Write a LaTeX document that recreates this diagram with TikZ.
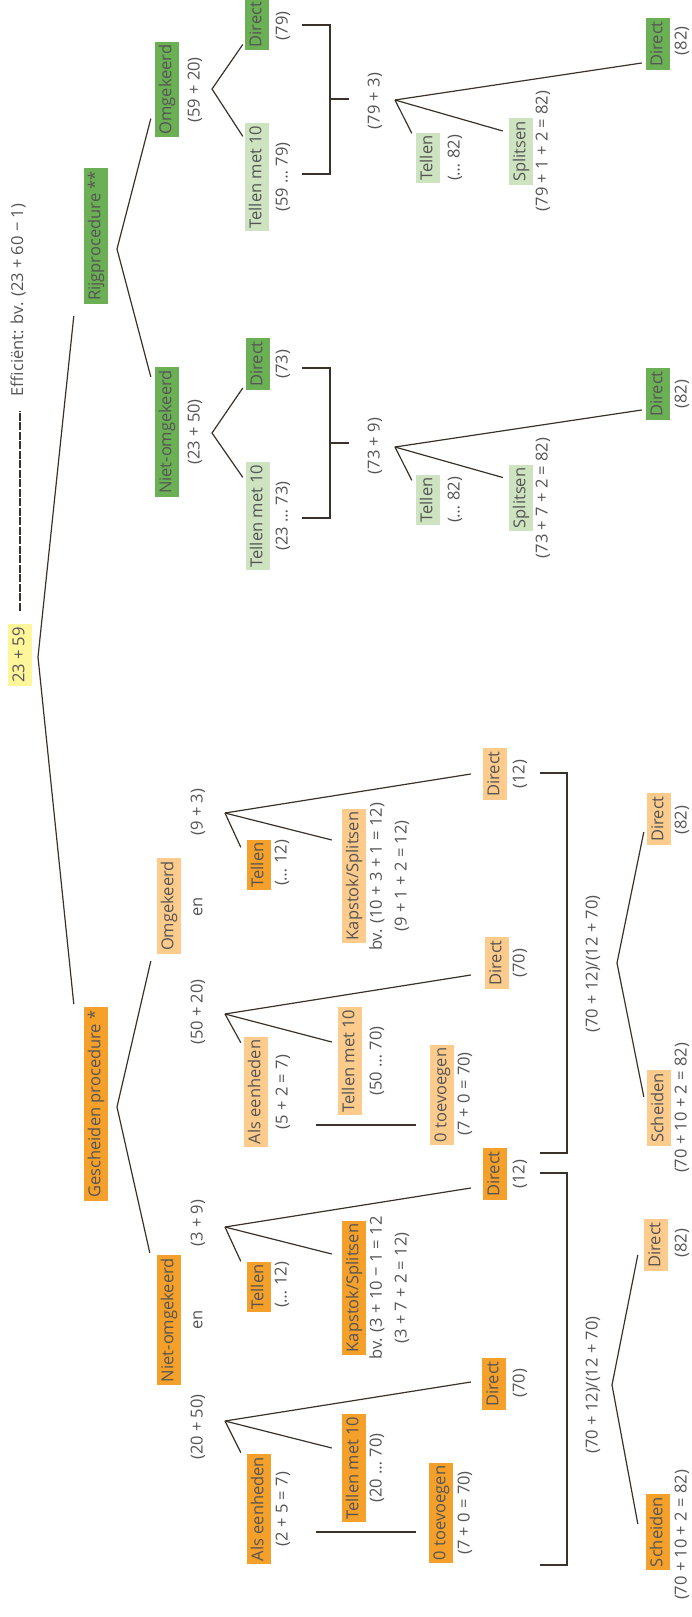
\documentclass[tikz,border=0pt]{standalone}
\usepackage{fontspec}
\setmainfont{Open Sans}
\usetikzlibrary{calc}
\definecolor{orDark}{RGB}{244,160,42}
\definecolor{orLight}{RGB}{253,203,139}
\definecolor{grDark}{RGB}{108,176,86}
\definecolor{grLight}{RGB}{206,228,193}
\definecolor{rootYel}{RGB}{255,245,155}
\definecolor{txtGray}{RGB}{85,85,85}
\definecolor{lineBrown}{RGB}{58,50,40}
\tikzstyle{every node}=[font=\fontsize{16.5}{19}\selectfont, text=txtGray, rotate=90]
\tikzstyle{conn}=[line width=1.2pt, draw=lineBrown]
\tikzstyle{box}=[inner xsep=3pt, inner ysep=0pt, minimum height=24pt, text height=12.5pt, text depth=3.8pt]
\tikzstyle{ordark}=[box, fill=orDark]
\tikzstyle{orlight}=[box, fill=orLight]
\tikzstyle{grdark}=[box, fill=grDark]
\tikzstyle{grlight}=[box, fill=grLight]
\tikzstyle{rootbox}=[box, fill=rootYel]
\tikzstyle{note}=[inner sep=0pt]

\begin{document}
\begin{tikzpicture}[x=1pt,y=-1pt]
  \useasboundingbox (0,0) rectangle (691,1617);
  % root
  \node[rootbox] (root) at (20,655) {23 + 59};
  \node[note] (eff) at (18,300) {Efficiënt: bv. (23 + 60 − 1)};
  \draw[conn, line width=1.1pt, dash pattern=on 8pt off 1.5pt,
        shorten <=13pt, shorten >=15pt] (root.east) -- (root.east |- eff.west);
  \node[grdark] (rijg) at (96,236) {Rijgprocedure **};
  \node[ordark] (gesch) at (96,1104) {Gescheiden procedure *};
  \coordinate (v0) at (38,657);
  \draw[conn] ($(rijg.north west)+(-10,12)$) -- (v0) -- ($(gesch.north east)+(-10,-3)$);

  % Rijgprocedure
  \node[grdark] (romg) at (167,89.5) {Omgekeerd};
  \node[note] (romgn) at (195,90) {(59 + 20)};
  \node[grdark] (rniet) at (167,432) {Niet-omgekeerd};
  \node[note] (rnietn) at (195,432) {(23 + 50)};
  \coordinate (v1) at (117,249);
  \draw[conn] ($(romg.north west)+(-4,-19)$) -- (v1) -- ($(rniet.north east)+(-4,10)$);

  % (59 + 20)
  \node[grdark] (rdirA) at (257,24.5) {Direct};
  \node[note] (rdirAn) at (283,26) {(79)};
  \node[grlight] (rtelA) at (257,177) {Tellen met 10};
  \node[note] (rtelAn) at (283,177) {(59 … 79)};
  \coordinate (v2) at (212,89);
  \draw[conn] ($(rdirA.north west)+(-2,-6)$) -- (v2) -- ($(rtelA.north east)+(-2,14)$);
  \coordinate (bA1) at (302,25);
  \coordinate (bA2) at (302,174);
  \coordinate (bA3) at (349,99);
  \draw[conn] (bA1) -- ++(28,0) |- (bA2);
  \draw[conn] (bA3) -- ++(-19,0);
  \node[note] (rsomA) at (375,101) {(79 + 3)};
  \coordinate (v3) at (395,100);
  \node[grlight] (rtelB) at (428,158) {Tellen};
  \node[note] (rtelBn) at (455,158) {(… 82)};
  \node[grlight] (rsplA) at (521,151.5) {Splitsen};
  \node[note] (rsplAn) at (543,151) {(79 + 1 + 2 = 82)};
  \node[grdark] (rdirB) at (658,44) {Direct};
  \node[note] (rdirBn) at (682,41) {(82)};
  \draw[conn] (v3) -- ($(rtelB.north east)+(-4,1)$);
  \draw[conn] (v3) -- ($(rsplA.north east)+(-6,13)$);
  \draw[conn] (v3) -- ($(rdirB.north west)+(-4,-7)$);

  % (23 + 50)
  \node[grdark] (rdirC) at (258,364) {Direct};
  \node[note] (rdirCn) at (283,364) {(73)};
  \node[grlight] (rtelC) at (258,516) {Tellen met 10};
  \node[note] (rtelCn) at (283,516) {(23 … 73)};
  \coordinate (v4) at (212,433);
  \draw[conn] ($(rdirC.north west)+(-3,-2)$) -- (v4) -- ($(rtelC.north east)+(-3,16)$);
  \coordinate (bB1) at (302,368);
  \coordinate (bB2) at (302,518);
  \coordinate (bB3) at (349,443);
  \draw[conn] (bB1) -- ++(28,0) |- (bB2);
  \draw[conn] (bB3) -- ++(-19,0);
  \node[note] (rsomB) at (375,446) {(73 + 9)};
  \coordinate (v5) at (395,447);
  \node[grlight] (rtelD) at (428,500) {Tellen};
  \node[note] (rtelDn) at (455,500) {(… 82)};
  \node[grlight] (rsplB) at (521,498) {Splitsen};
  \node[note] (rsplBn) at (543,498) {(73 + 7 + 2 = 82)};
  \node[grdark] (rdirD) at (658,394) {Direct};
  \node[note] (rdirDn) at (682,394) {(82)};
  \draw[conn] (v5) -- ($(rtelD.north east)+(-4,6)$);
  \draw[conn] (v5) -- ($(rsplB.north east)+(-6,13)$);
  \draw[conn] (v5) -- ($(rdirD.north west)+(-4,-10)$);

  % Gescheiden procedure
  \node[orlight] (gomg) at (169,906) {Omgekeerd};
  \node[note] (gomgL) at (198,1012) {(50 + 20)};
  \node[note] (gomgM) at (198,907) {en};
  \node[note] (gomgR) at (198,812) {(9 + 3)};
  \node[ordark] (gniet) at (169,1320) {Niet-omgekeerd};
  \node[note] (gnietL) at (198,1427) {(20 + 50)};
  \node[note] (gnietM) at (198,1320) {en};
  \node[note] (gnietR) at (198,1223) {(3 + 9)};
  \coordinate (v6) at (117,1107);
  \draw[conn] ($(gomg.north west)+(-6,7)$) -- (v6) -- ($(gniet.north east)+(-7,-2)$);

  % (9 + 3)
  \node[ordark] (gtelA) at (259,865) {Tellen};
  \node[note] (gtelAn) at (282,863) {(… 12)};
  \node[orlight] (gkapA) at (354,876) {Kapstok/Splitsen};
  \node[note] (gkapAn) at (377,877) {bv. (10 + 3 + 1 = 12)};
  \node[note] (gkapAm) at (402,876) {(9 + 1 + 2 = 12)};
  \node[orlight] (gdirA) at (495,774) {Direct};
  \node[note] (gdirAn) at (520,774) {(12)};
  \coordinate (v7) at (225,813);
  \draw[conn] (v7) -- ($(gtelA.north east)+(-6,8)$);
  \draw[conn] (v7) -- ($(gkapA.north)+(-10,-36)$);
  \draw[conn] (v7) -- ($(gdirA.north)+(-12,0)$);

  % (50 + 20)
  \node[orlight] (galsA) at (256,1092) {Als eenheden};
  \node[note] (galsAn) at (283,1092) {(5 + 2 = 7)};
  \node[orlight] (gtmA) at (350,1061) {Tellen met 10};
  \node[note] (gtmAn) at (377,1061) {(50 … 70)};
  \node[orlight] (gdirB) at (497,963) {Direct};
  \node[note] (gdirBn) at (520,963) {(70)};
  \node[orlight] (gnulA) at (442,1095) {0 toevoegen};
  \node[note] (gnulAn) at (465,1094) {(7 + 0 = 70)};
  \coordinate (v8) at (225,1014);
  \draw[conn] (v8) -- ($(galsA.north east)+(-3,6)$);
  \draw[conn] (v8) -- ($(gtmA.north)+(-6,-19)$);
  \draw[conn] (v8) -- ($(gdirB.north)+(-14,12)$);
  \draw[conn] ($(galsA.south)+(48,33)$) -- ($(gnulA.north)+(-14,30)$);

  % (70 + 12)/(12 + 70)
  \coordinate (bC1) at (540,773);
  \coordinate (bC2) at (540,1153);
  \draw[conn] (bC1) -- ++(27,0) |- (bC2);
  \node[note] (gsomA) at (593,964) {(70 + 12)/(12 + 70)};
  \coordinate (v9) at (617,963);
  \node[orlight] (gdirC) at (659,819) {Direct};
  \node[note] (gdirCn) at (682,820) {(82)};
  \node[orlight] (gschA) at (659,1108) {Scheiden};
  \node[note] (gschAn) at (682,1108) {(70 + 10 + 2 = 82)};
  \draw[conn] ($(gdirC.north west)+(-3,-13)$) -- (v9) -- ($(gschA.north east)+(-3,27)$);

  % (3 + 9)
  \node[ordark] (gtelB) at (259,1287) {Tellen};
  \node[note] (gtelBn) at (282,1285) {(… 12)};
  \node[ordark] (gkapB) at (354,1288) {Kapstok/Splitsen};
  \node[note] (gkapBn) at (377,1288) {bv. (3 + 10 − 1 = 12};
  \node[note] (gkapBm) at (402,1288) {(3 + 7 + 2 = 12)};
  \node[ordark] (gdirD) at (495,1174) {Direct};
  \node[note] (gdirDn) at (520,1174) {(12)};
  \coordinate (v10) at (225,1227);
  \draw[conn] (v10) -- ($(gtelB.north east)+(-6,0)$);
  \draw[conn] (v10) -- ($(gkapB.north)+(-10,-34)$);
  \draw[conn] (v10) -- ($(gdirD.north)+(-12,14)$);

  % (20 + 50)
  \node[ordark] (galsB) at (259,1509) {Als eenheden};
  \node[note] (galsBn) at (283,1509) {(2 + 5 = 7)};
  \node[ordark] (gtmB) at (354,1468) {Tellen met 10};
  \node[note] (gtmBn) at (377,1468) {(20 … 70)};
  \node[ordark] (gdirE) at (494,1384) {Direct};
  \node[note] (gdirEn) at (520,1383) {(70)};
  \node[ordark] (gnulB) at (441,1513) {0 toevoegen};
  \node[note] (gnulBn) at (465,1513) {(7 + 0 = 70)};
  \coordinate (v11) at (225,1421);
  \draw[conn] (v11) -- ($(galsB.north east)+(-6,-1)$);
  \draw[conn] (v11) -- ($(gtmB.north)+(-10,-20)$);
  \draw[conn] (v11) -- ($(gdirE.north)+(-11,-2)$);
  \draw[conn] ($(galsB.south)+(45,23)$) -- ($(gnulB.north)+(-13,19)$);

  % (70 + 12)/(12 + 70)
  \coordinate (bD1) at (540,1173);
  \coordinate (bD2) at (540,1565);
  \draw[conn] (bD1) -- ++(27,0) |- (bD2);
  \node[note] (gsomB) at (593,1385) {(70 + 12)/(12 + 70)};
  \coordinate (v12) at (612,1385);
  \node[orlight] (gdirF) at (656,1245) {Direct};
  \node[note] (gdirFn) at (682,1243) {(82)};
  \node[ordark] (gschB) at (658,1532) {Scheiden};
  \node[note] (gschBn) at (682,1535) {(70 + 10 + 2 = 82)};
  \draw[conn] ($(gdirF.north west)+(-6,-16)$) -- (v12) -- ($(gschB.north east)+(-8,30)$);
\end{tikzpicture}
\end{document}
